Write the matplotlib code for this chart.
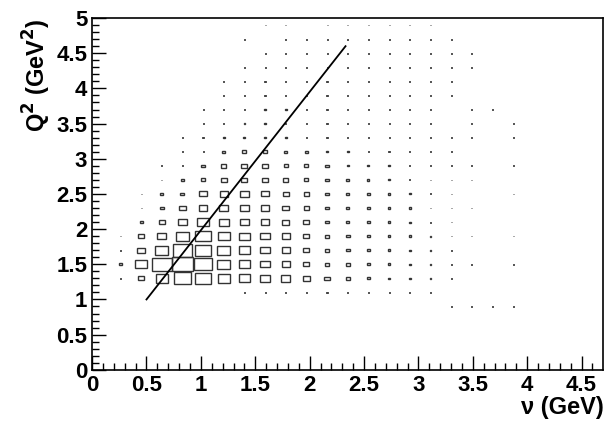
import matplotlib
matplotlib.use("Agg")
import matplotlib.pyplot as plt
from matplotlib.patches import Rectangle
import numpy as np

plt.rcParams['font.family'] = ['Liberation Sans', 'DejaVu Sans']

nu_centers = [0.26 + 0.19 * i for i in range(20)]
D = 0.05
rows = {
    0.9: [0]*16 + [D, D, D, D],
    1.1: [0]*6 + [D, D, .07, .07, .07, D, D, D, D, D] + [0]*4,
    1.3: [D, .3, .6, .85, .75, .6, .55, .5, .45, .35, .25, .2, .15, .12, .1, .08, D, 0, 0, 0],
    1.5: [.15, .55, .95, 1.0, .85, .65, .55, .45, .4, .3, .2, .18, .15, .12, .1, .08, D, D, 0, D],
    1.7: [D, .35, .65, .9, .8, .65, .55, .45, .4, .3, .2, .18, .15, .12, .1, .08, D, 0, 0, 0],
    1.9: [D, .3, .45, .65, .75, .6, .5, .45, .4, .3, .2, .18, .15, .12, .1, .08, D, D, 0, D],
    2.1: [0, .15, .3, .45, .55, .5, .45, .4, .35, .3, .2, .15, .12, .1, .08, .07, D, 0, 0, 0],
    2.3: [0, D, .2, .35, .4, .45, .45, .4, .35, .25, .2, .15, .12, .1, .08, .07, D, D, 0, 0],
    2.5: [0, D, .15, .2, .35, .4, .4, .35, .3, .25, .2, .15, .12, .1, .08, .07, D, 0, 0, D],
    2.7: [0, 0, D, .15, .2, .3, .3, .3, .25, .2, .15, .12, .1, .08, .07, D, D, D, 0, 0],
    2.9: [0, 0, D, D, .15, .25, .3, .25, .2, .2, .15, .1, .1, .08, .07, D, D, D, 0, D],
    3.1: [0, 0, 0, D, D, .15, .2, .2, .15, .12, .1, .08, .07, .07, .06, D, D, 0, 0, 0],
    3.3: [0, 0, 0, D, .07, .1, .1, .1, .08, .07, .07, .06, .06, D, D, D, D, D, 0, D],
    3.5: [0, 0, 0, 0, D, .07, .08, .08, .07, .07, .06, .06, D, D, D, D, 0, D, 0, D],
    3.7: [0, 0, 0, 0, D, D, .07, .1, .1, .07, .06, .06, D, D, D, D, 0, D, D, 0],
    3.9: [0, 0, 0, 0, 0, D, .06, .06, .06, .06, .06, D, D, D, D, D, D, 0, 0, 0],
    4.1: [0, 0, 0, 0, 0, D, D, .06, .06, .06, .06, D, D, D, D, D, D, 0, 0, 0],
    4.3: [0, 0, 0, 0, 0, 0, D, D, D, D, D, D, D, D, D, D, D, D, 0, 0],
    4.5: [0, 0, 0, 0, 0, 0, 0, D, D, D, D, D, D, D, D, D, D, D, 0, 0],
    4.7: [0, 0, 0, 0, 0, 0, D, 0, D, D, D, D, D, D, D, D, D, 0, 0, 0],
    4.9: [0, 0, 0, 0, 0, 0, 0, D, D, 0, D, D, D, D, D, D, 0, 0, 0, 0],
}
line_nu = [0.5, 2.33]
line_q2 = [1.0, 4.6]

fig = plt.figure(figsize=(6.1, 4.3), dpi=100)
ax = fig.add_axes([0.151, 0.14, 0.838, 0.818])
cw, ch = 0.19, 0.2
for q2, vals in rows.items():
    for x, s in zip(nu_centers, vals):
        if s <= 0:
            continue
        w, h = s * cw, s * ch
        if s <= 0.07:
            ax.add_patch(Rectangle((x - w/2, q2 - h/2), w, h, facecolor='#333333', edgecolor='#333333', lw=0.6))
        else:
            ax.add_patch(Rectangle((x - w/2, q2 - h/2), w, h, facecolor='none', edgecolor='#333333', lw=1.0))
ax.plot(line_nu, line_q2, color='black', lw=1.3)

ax.set_xlim(0, 4.7)
ax.set_ylim(0, 5)
ax.set_xticks(np.arange(0, 4.6, 0.5))
ax.set_xticklabels(['0', '0.5', '1', '1.5', '2', '2.5', '3', '3.5', '4', '4.5'])
ax.set_yticks(np.arange(0, 5.01, 0.5))
ax.set_yticklabels(['0', '0.5', '1', '1.5', '2', '2.5', '3', '3.5', '4', '4.5', '5'])
ax.set_xticks(np.arange(0, 4.7, 0.1), minor=True)
ax.set_yticks(np.arange(0, 5.01, 0.1), minor=True)
ax.tick_params(which='both', direction='in', top=False, right=False, labelsize=16)
ax.tick_params(which='major', length=10, width=1)
ax.tick_params(which='minor', length=5, width=1)
for lab in ax.get_xticklabels() + ax.get_yticklabels():
    lab.set_fontweight('bold')
for sp in ax.spines.values():
    sp.set_linewidth(1.2)
ax.set_xlabel('\u03bd (GeV)', fontsize=17, fontweight='bold', loc='right', labelpad=0)
ax.set_ylabel(r'Q$^{\mathbf{2}}$ (GeV$^{\mathbf{2}}$)', fontsize=17, fontweight='bold', loc='top', labelpad=2)
fig.savefig('out.png', dpi=100)
